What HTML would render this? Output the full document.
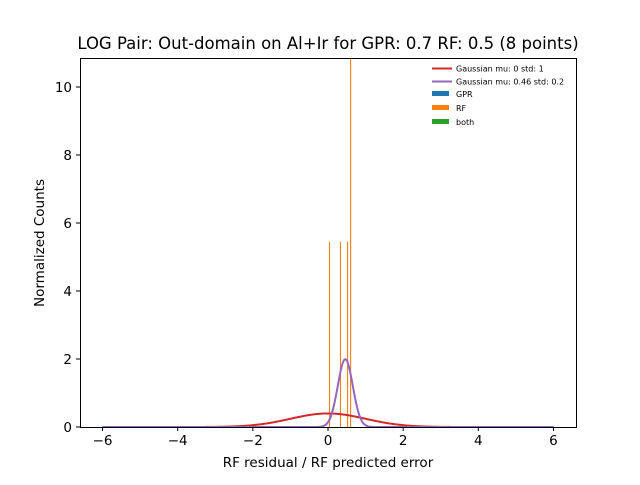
<!DOCTYPE html>
<html><head><meta charset="utf-8"><style>
body{margin:0;background:#fff}
svg text{font-family:"DejaVu Sans","Liberation Sans",sans-serif}
</style></head><body>
<svg id="c" width="640" height="480" xmlns="http://www.w3.org/2000/svg">
<rect width="640" height="480" fill="#fff"/>
<text x="328" y="49" font-size="16.5" text-anchor="middle">LOG Pair: Out-domain on Al+Ir for GPR: 0.7 RF: 0.5 (8 points)</text>
<g id="plot"></g>
<rect x="80.5" y="58.5" width="496" height="369" fill="none" stroke="#000" stroke-width="1"/>
<text x="328" y="467" font-size="13.5" text-anchor="middle">RF residual / RF predicted error</text>
<text transform="translate(44,243) rotate(-90)" font-size="13.5" text-anchor="middle">Normalized Counts</text>
<g font-size="8">
<line x1="432" y1="68.5" x2="452" y2="68.5" stroke="#d62728" stroke-width="2"/>
<text x="456" y="71.5">Gaussian mu: 0 std: 1</text>
<line x1="432" y1="81.5" x2="452" y2="81.5" stroke="#9467bd" stroke-width="2"/>
<text x="456" y="84.5">Gaussian mu: 0.46 std: 0.2</text>
<rect x="432" y="91" width="17" height="5" fill="#1f77b4"/>
<text x="456" y="97">GPR</text>
<rect x="432" y="105" width="17" height="5" fill="#ff7f0e"/>
<text x="456" y="111">RF</text>
<rect x="432" y="119" width="17" height="5" fill="#2ca02c"/>
<text x="456" y="125">both</text>
</g>
</svg>
<script>
const binCenters=[0.04,0.33,0.52,0.6];
const rfCounts=[5.45,5.45,5.45,10.9];
const gaussMus=[0,0.46];
const gaussStds=[1,0.2];
const gaussColors=["#d62728","#9467bd"];
const xTicks=[-6,-4,-2,0,2,4,6];
const yTicks=[0,2,4,6,8,10];
const X0=80,X1=576,Y0=58,Y1=427;
const xmin=-6.6,xmax=6.6,ymax=10.853;
const sx=v=>X0+(v-xmin)/(xmax-xmin)*(X1-X0);
const sy=v=>Y1-v/ymax*(Y1-Y0);
const NS="http://www.w3.org/2000/svg";
const g=document.getElementById('plot');
function mk(t,a){const e=document.createElementNS(NS,t);for(const k in a)e.setAttribute(k,a[k]);g.appendChild(e);return e;}
const cp=mk('clipPath',{id:'cl'});g.removeChild(cp);
const r=document.createElementNS(NS,'rect');r.setAttribute('x',X0);r.setAttribute('y',Y0);r.setAttribute('width',X1-X0);r.setAttribute('height',Y1-Y0);cp.appendChild(r);
g.appendChild(cp);
binCenters.forEach((c,i)=>{
 const e=mk('rect',{x:sx(c)-0.5,y:Math.max(sy(rfCounts[i]),Y0),width:1.1,height:Y1-Math.max(sy(rfCounts[i]),Y0),fill:'#ff7f0e'});
 
 
});
gaussMus.forEach((mu,k)=>{
 const s=gaussStds[k];let d='';
 for(let i=0;i<=600;i++){const x=-6+12*i/600;const y=Math.exp(-0.5*((x-mu)/s)**2)/(s*Math.sqrt(2*Math.PI));d+=(i?'L':'M')+sx(x).toFixed(2)+','+sy(y).toFixed(2);}
 const e=mk('path',{d:d,fill:'none',stroke:gaussColors[k],'stroke-width':2,'clip-path':'url(#cl)'});
 
 
});
xTicks.forEach(t=>{
 const x=sx(t);
 const l=mk('line',{x1:x,x2:x,y1:Y1,y2:Y1+4,stroke:'#000'});
 
 
 const tx=mk('text',{x:x,y:Y1+18,'font-size':13.5,'text-anchor':'middle'});tx.textContent=(t<0?'\u2212'+(-t):t);
 
 
});
yTicks.forEach(t=>{
 const y=sy(t);
 const l=mk('line',{x1:X0-4,x2:X0,y1:y,y2:y,stroke:'#000'});
 
 
 const tx=mk('text',{x:X0-8,y:y+5,'font-size':13.5,'text-anchor':'end'});tx.textContent=t;
 
 
});
</script>
</body></html>
